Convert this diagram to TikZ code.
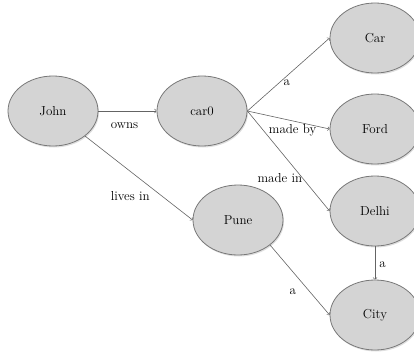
\documentclass[tikz,border=0pt]{standalone}
\usepackage{tikz}
\usetikzlibrary{shapes.geometric, shadows, arrows}
\definecolor{conceptfill}{RGB}{212,212,212}
\definecolor{conceptline}{RGB}{120,120,120}
\definecolor{relline}{RGB}{100,100,100}
\tikzset{concept/.style={ellipse, draw=conceptline, fill=conceptfill, thick,
    minimum width=90pt, minimum height=70pt, inner sep=1pt,
    drop shadow={shadow xshift=1pt, shadow yshift=-1.5pt, opacity=.25}}}
\tikzset{rel/.style={->, >=to, draw=relline, semithick}}
\tikzset{rellabel/.style={inner sep=1pt, font=\fontsize{13}{15}\selectfont}}

\begin{document}
\begin{tikzpicture}[x=1pt, y=-1pt, font=\fontsize{13}{15}\selectfont]
  \useasboundingbox (0,0) rectangle (414,353);

  % --- concepts ---
  \node[concept] (John) at (53,111) {John};
  \node[concept] (car0) at (202,111) {car0};
  \node[concept] (Pune) at (238,220) {Pune};
  \node[concept] (Car)  at (375,38)  {Car};
  \node[concept] (Ford) at (375,129) {Ford};
  \node[concept] (Delhi) at (375,211) {Delhi};
  \node[concept] (City) at (375,315) {City};

  % --- relations from John ---
  \draw[rel] (John.east) -- node[rellabel, pos=.45, below=10pt] {owns} (car0.west);
  \draw[rel] (John.-38) -- node[rellabel, pos=.42, below=19pt] {lives in} (Pune.west);

  % --- relations from car0 ---
  \draw[rel] (car0.east) -- node[rellabel, pos=.48, below=2pt] {a} (Car.west);
  \draw[rel] (car0.east) -- node[rellabel, pos=.55, below=2pt] {made by} (Ford.west);
  \draw[rel] (car0.east) -- node[rellabel, pos=.67, left=-1pt] {made in} (Delhi.west);

  % --- into City ---
  \draw[rel] (Delhi.south) -- node[rellabel, pos=.55, right=3pt] {a} (City.north);
  \draw[rel] (Pune.-38) -- node[rellabel, pos=.66, left=12pt] {a} (City.west);

\end{tikzpicture}
\end{document}
